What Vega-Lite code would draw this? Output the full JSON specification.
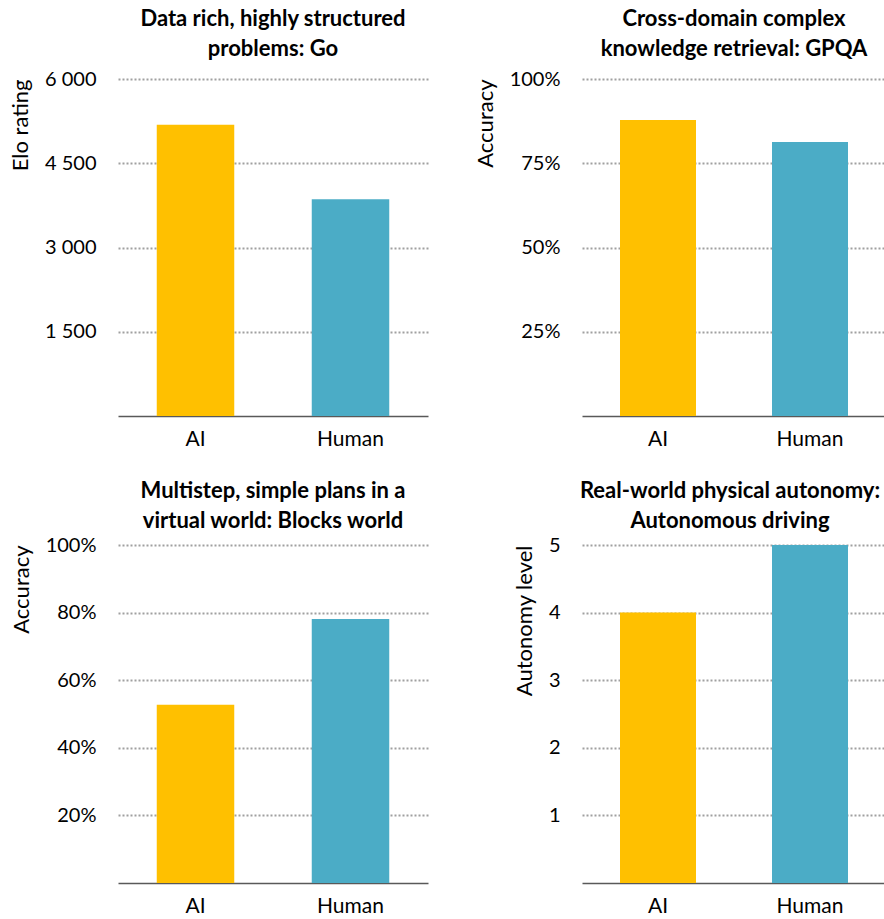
{
  "$schema": "https://vega.github.io/schema/vega-lite/v6.json",
  "padding": {"left": 9, "top": 8, "right": 0, "bottom": 0},
  "config": {
    "font": "Lato",
    "view": {"stroke": null},
    "axis": {
      "labelFont": "Lato", "titleFont": "Lato",
      "labelFontSize": 20, "titleFontSize": 22, "titleFontWeight": "normal",
      "labelColor": "#000000", "titleColor": "#000000",
      "ticks": false, "domain": false,
      "gridColor": "#a0a0a0", "gridDash": [2, 2], "gridWidth": 2,
      "labelPadding": 22, "titlePadding": 12
    },
    "axisY": {"titleAnchor": "end"},
    "axisX": {"domain": true, "domainColor": "#595959", "domainWidth": 1.5, "grid": false, "labelAngle": 0, "title": null, "labelPadding": 12, "labelFontSize": 21},
    "title": {"font": "Lato", "fontSize": 22, "fontWeight": "bold", "anchor": "middle", "frame": "group", "lineHeight": 30, "offset": 8, "color": "#000000"}
  },
  "datasets": {
    "bars": [
      {"panel": "go", "who": "AI", "value": 5185},
      {"panel": "go", "who": "Human", "value": 3860},
      {"panel": "gpqa", "who": "AI", "value": 0.878},
      {"panel": "gpqa", "who": "Human", "value": 0.813},
      {"panel": "blocks", "who": "AI", "value": 0.527},
      {"panel": "blocks", "who": "Human", "value": 0.781},
      {"panel": "driving", "who": "AI", "value": 4},
      {"panel": "driving", "who": "Human", "value": 5}
    ]
  },
  "columns": 2,
  "spacing": {"column": 46, "row": 31},
  "concat": [
    {
      "title": {"text": ["Data rich, highly structured", "problems: Go"]},
      "width": 310, "height": 337,
      "data": {"name": "bars"},
      "transform": [{"filter": "datum.panel === 'go'"}],
      "mark": {"type": "bar"},
      "encoding": {
        "x": {"field": "who", "type": "nominal", "sort": ["AI", "Human"], "scale": {"paddingInner": 0.5, "paddingOuter": 0.25}},
        "y": {"field": "value", "type": "quantitative", "title": "Elo rating", "scale": {"domain": [0, 6000], "nice": false}, "axis": {"values": [1500, 3000, 4500, 6000], "labelExpr": "replace(format(datum.value, ','), ',', ' ')"}},
        "color": {"field": "who", "type": "nominal", "scale": {"domain": ["AI", "Human"], "range": ["#FFC000", "#4BACC6"]}, "legend": null}
      }
    },
    {
      "title": {"text": ["Cross-domain complex", "knowledge retrieval: GPQA"]},
      "width": 304, "height": 337,
      "data": {"name": "bars"},
      "transform": [{"filter": "datum.panel === 'gpqa'"}],
      "mark": {"type": "bar"},
      "encoding": {
        "x": {"field": "who", "type": "nominal", "sort": ["AI", "Human"], "scale": {"paddingInner": 0.5, "paddingOuter": 0.25}},
        "y": {"field": "value", "type": "quantitative", "title": "Accuracy", "scale": {"domain": [0, 1], "nice": false}, "axis": {"values": [0.25, 0.5, 0.75, 1], "format": ".0%"}},
        "color": {"field": "who", "type": "nominal", "scale": {"domain": ["AI", "Human"], "range": ["#FFC000", "#4BACC6"]}, "legend": null}
      }
    },
    {
      "title": {"text": ["Multistep, simple plans in a", "virtual world: Blocks world"], "offset": 2},
      "width": 310, "height": 338,
      "data": {"name": "bars"},
      "transform": [{"filter": "datum.panel === 'blocks'"}],
      "mark": {"type": "bar"},
      "encoding": {
        "x": {"field": "who", "type": "nominal", "sort": ["AI", "Human"], "scale": {"paddingInner": 0.5, "paddingOuter": 0.25}},
        "y": {"field": "value", "type": "quantitative", "title": "Accuracy", "scale": {"domain": [0, 1], "nice": false}, "axis": {"values": [0.2, 0.4, 0.6, 0.8, 1], "format": ".0%"}},
        "color": {"field": "who", "type": "nominal", "scale": {"domain": ["AI", "Human"], "range": ["#FFC000", "#4BACC6"]}, "legend": null}
      }
    },
    {
      "title": {"text": ["Real-world physical autonomy:", "Autonomous driving"], "offset": 2, "dx": -4},
      "width": 304, "height": 338,
      "data": {"name": "bars"},
      "transform": [{"filter": "datum.panel === 'driving'"}],
      "mark": {"type": "bar"},
      "encoding": {
        "x": {"field": "who", "type": "nominal", "sort": ["AI", "Human"], "scale": {"paddingInner": 0.5, "paddingOuter": 0.25}},
        "y": {"field": "value", "type": "quantitative", "title": "Autonomy level", "scale": {"domain": [0, 5], "nice": false}, "axis": {"values": [1, 2, 3, 4, 5], "format": "d"}},
        "color": {"field": "who", "type": "nominal", "scale": {"domain": ["AI", "Human"], "range": ["#FFC000", "#4BACC6"]}, "legend": null}
      }
    }
  ]
}
